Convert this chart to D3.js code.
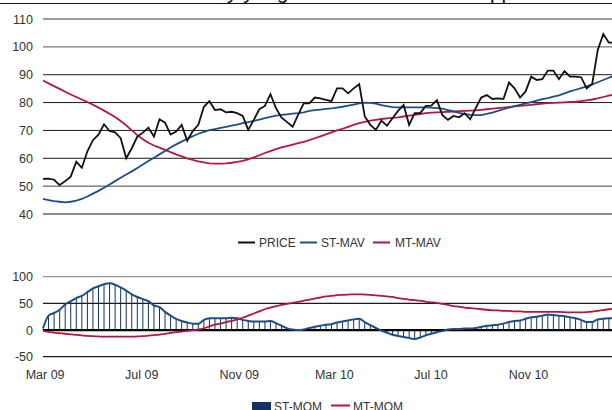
<!DOCTYPE html>
<html>
<head>
<meta charset="utf-8">
<script src="https://cdn.jsdelivr.net/npm/d3@7"></script>
<style>
  html, body { margin: 0; padding: 0; background: #fff; overflow: hidden; }
  svg { display: block; font-family: "Liberation Sans", Arial, sans-serif; }
</style>
</head>
<body>
<svg id="chart" width="612" height="410"></svg>
<script>
// Weekly observations, first week ending 27 Feb 2009
const startDate = "2009-02-27";

const price = [52.6, 52.7, 52.3, 50.4, 51.8, 53.4, 58.8, 56.6, 62.5, 66.5,
  68.5, 72.2, 69.8, 69.3, 67.2, 60.0, 63.6, 67.8, 69.2, 71.0,
  67.8, 74.0, 72.8, 68.5, 69.6, 72.0, 66.3, 69.8, 72.0, 78.5,
  80.5, 77.3, 77.6, 76.5, 76.7, 76.2, 75.2, 70.2, 73.8, 77.6,
  78.8, 83.0, 78.0, 74.6, 73.0, 71.3, 75.7, 79.7, 79.7, 81.8,
  81.5, 81.0, 80.5, 85.1, 85.1, 83.3, 85.1, 86.6, 75.0, 72.0,
  70.2, 73.5, 71.7, 74.4, 77.0, 79.1, 72.0, 76.2, 76.2, 78.8,
  78.9, 80.9, 75.5, 73.8, 75.2, 74.7, 76.2, 74.0, 78.0, 81.8,
  82.7, 81.3, 81.5, 81.3, 87.2, 85.1, 81.8, 84.0, 89.3, 88.1,
  88.4, 91.5, 91.5, 88.4, 91.3, 89.3, 89.3, 89.1, 85.1, 86.7,
  98.9, 104.6, 101.5, 101.5];

const stMav = [45.4, 45.0, 44.6, 44.4, 44.2, 44.4, 44.8, 45.4, 46.3, 47.3,
  48.3, 49.4, 50.6, 51.8, 53.0, 54.2, 55.3, 56.5, 57.8, 59.0,
  60.2, 61.4, 62.6, 63.9, 65.0, 66.0, 67.0, 67.9, 68.8, 69.5,
  70.1, 70.5, 70.9, 71.3, 71.7, 72.1, 72.6, 73.0, 73.4, 73.9,
  74.4, 74.9, 75.3, 75.6, 75.8, 76.0, 76.2, 76.5, 77.0, 77.3,
  77.5, 77.7, 77.9, 78.2, 78.5, 78.9, 79.3, 79.7, 80.0, 79.9,
  79.6, 79.1, 78.7, 78.4, 78.3, 78.3, 78.3, 78.3, 78.3, 78.3,
  78.2, 78.0, 77.8, 77.3, 76.8, 76.3, 75.9, 75.6, 75.5, 75.5,
  75.9, 76.4, 77.0, 77.6, 78.2, 78.7, 79.2, 79.7, 80.2, 80.7,
  81.2, 81.6, 82.1, 82.6, 83.3, 84.0, 84.6, 85.2, 85.8, 86.5,
  87.3, 88.1, 88.9, 89.7];

const mtMav = [87.9, 86.9, 85.9, 84.9, 83.9, 82.9, 82.0, 81.1, 80.2, 79.2,
  78.2, 77.1, 76.0, 74.8, 73.4, 71.8, 70.0, 68.3, 66.8, 65.6,
  64.6, 63.8, 63.0, 62.2, 61.4, 60.7, 60.0, 59.4, 58.9, 58.5,
  58.2, 58.1, 58.1, 58.2, 58.4, 58.7, 59.1, 59.6, 60.3, 61.1,
  61.9, 62.6, 63.3, 63.9, 64.4, 64.9, 65.4, 65.9, 66.5, 67.2,
  67.9, 68.6, 69.3, 70.0, 70.6, 71.3, 72.0, 72.6, 73.1, 73.5,
  73.8, 74.1, 74.3, 74.5, 74.7, 75.0, 75.3, 75.6, 75.9, 76.2,
  76.4, 76.5, 76.6, 76.7, 76.8, 76.9, 77.0, 77.1, 77.2, 77.4,
  77.6, 77.8, 78.0, 78.2, 78.4, 78.6, 78.8, 79.0, 79.2, 79.4,
  79.6, 79.8, 79.9, 80.0, 80.1, 80.2, 80.3, 80.5, 80.8, 81.1,
  81.5, 82.0, 82.5, 83.0];

const stMom = [3, 27, 32, 38, 48, 54, 60, 64, 71, 78,
  82, 86, 87.5, 85, 80, 74, 67, 62, 58, 54,
  46, 43, 34, 27, 21, 17, 14, 12, 12, 19,
  22, 22, 22, 22, 23, 22, 19, 17, 16, 16,
  16, 17, 13, 8, 3, 1, 0, 1, 4, 6,
  8, 10, 11, 14, 16, 18, 20, 21, 15, 9,
  4, -1, -5, -9, -11, -13, -15, -17, -14, -10,
  -7, -4, -2, 1, 2, 2, 3, 3, 4, 6,
  8, 9, 10, 12, 15, 17, 18, 21, 24, 25,
  27, 29, 28, 27, 26, 24, 22, 19, 15, 15,
  20, 21, 22, 22];

const mtMom = [-2, -3.5, -5, -6, -7, -8, -9, -10, -11, -11.5,
  -12, -12.5, -12.5, -12.5, -12.5, -12.5, -12.5, -12, -11.5, -10.5,
  -9.5, -8.5, -7, -5.5, -4, -3, -1.5, 0, 1, 3,
  7, 10, 12, 15, 17, 20, 23, 27, 31, 35,
  39, 42, 45, 47, 49, 51, 53, 55, 57, 59,
  61, 63, 64, 65.5, 66, 66.5, 67, 67, 66.5, 66,
  65, 64, 63, 62, 60, 58.5, 57, 56, 55, 53,
  52, 51, 49, 47, 45, 44, 42, 41, 40, 39,
  38, 37, 37, 36, 36, 35, 35, 34, 34, 34,
  34, 34, 34, 34, 33.5, 33, 33, 33, 33.5, 34.5,
  36, 37.5, 39, 40];

const priceTicks = [40, 50, 60, 70, 80, 90, 100, 110];
const momTicks = [-50, 0, 50, 100];
const monthTicks = ["2009-03-01", "2009-07-01", "2009-11-01", "2010-03-01", "2010-07-01", "2010-11-01"];

const colors = { price: "#111111", st: "#1d4e86", mt: "#b3173b", bar: "#0f3462", text: "#333333" };

const svg = d3.select("#chart");
const W = 612;

const dates = price.map((_, i) => d3.utcDay.offset(new Date(startDate + "T00:00:00Z"), 7 * i));
const x = d3.scaleUtc().domain([dates[0], dates[dates.length - 1]]).range([43, 614.4]);

const yTop = d3.scaleLinear().domain([40, 110]).range([214, 19]);
const yBot = d3.scaleLinear().domain([-50, 100]).range([356.7, 276.7]);

// header: title sits above the top edge, with a rule underneath
svg.append("text")
  .attr("x", 117.5).attr("y", -1.5)
  .attr("font-size", 20.75).attr("fill", "#111")
  .text("Price: steady yet gradual climb above support");
svg.append("line").attr("x1", 0).attr("x2", W).attr("y1", 3.5).attr("y2", 3.5)
  .attr("stroke", "#111").attr("stroke-width", 1);

// ---- upper panel: price and moving averages
const gridTop = svg.append("g");
priceTicks.forEach(t => {
  let stroke = "#1a1a1a", sw = 1;
  if (t >= 100) { stroke = "#7a7a7a"; sw = 1.4; }
  if (t === 50) { stroke = "#444"; }
  if (t === 40) { stroke = "#8a8a8a"; sw = 2; }
  gridTop.append("line")
    .attr("x1", 43).attr("x2", W)
    .attr("y1", yTop(t)).attr("y2", yTop(t))
    .attr("stroke", stroke).attr("stroke-width", sw);
  gridTop.append("text")
    .attr("x", 33).attr("y", yTop(t) + 4.5)
    .attr("text-anchor", "end").attr("font-size", 12.5).attr("fill", colors.text)
    .text(t);
});

const lineTop = vals => d3.line().x((d, i) => x(dates[i])).y(d => yTop(d))(vals);

svg.append("path").attr("d", lineTop(mtMav)).attr("fill", "none")
  .attr("stroke", colors.mt).attr("stroke-width", 1.8);
svg.append("path").attr("d", lineTop(stMav)).attr("fill", "none")
  .attr("stroke", colors.st).attr("stroke-width", 1.8);
svg.append("path").attr("d", lineTop(price)).attr("fill", "none")
  .attr("stroke", colors.price).attr("stroke-width", 1.8).attr("stroke-linejoin", "miter");

// legend for the upper panel
const leg1 = svg.append("g").attr("font-size", 12).attr("fill", colors.text);
[
  { label: "PRICE", color: colors.price, x0: 238, tx: 259 },
  { label: "ST-MAV", color: colors.st, x0: 300, tx: 321 },
  { label: "MT-MAV", color: colors.mt, x0: 373, tx: 395 }
].forEach(d => {
  leg1.append("line").attr("x1", d.x0).attr("x2", d.x0 + 17)
    .attr("y1", 242.5).attr("y2", 242.5).attr("stroke", d.color).attr("stroke-width", 2);
  leg1.append("text").attr("x", d.tx).attr("y", 247).text(d.label);
});

// ---- lower panel: momentum
const gridBot = svg.append("g");
momTicks.forEach(t => {
  let stroke = "#1a1a1a", sw = 1.2;
  if (t === 100) { stroke = "#7a7a7a"; sw = 1; }
  gridBot.append("line")
    .attr("x1", 43).attr("x2", W)
    .attr("y1", yBot(t)).attr("y2", yBot(t))
    .attr("stroke", stroke).attr("stroke-width", sw);
  gridBot.append("text")
    .attr("x", 33).attr("y", yBot(t) + 4.5)
    .attr("text-anchor", "end").attr("font-size", 12.5).attr("fill", colors.text)
    .text(t);
});

// ST-MOM as thin columns from zero
svg.append("g").selectAll("line").data(stMom).join("line")
  .attr("x1", (d, i) => x(dates[i])).attr("x2", (d, i) => x(dates[i]))
  .attr("y1", yBot(0)).attr("y2", d => yBot(d))
  .attr("stroke", colors.bar).attr("stroke-width", 1);

// zero line on top of the columns
svg.append("line").attr("x1", 43).attr("x2", W)
  .attr("y1", yBot(0)).attr("y2", yBot(0))
  .attr("stroke", "#000").attr("stroke-width", 2.2);

const lineBot = vals => d3.line().x((d, i) => x(dates[i])).y(d => yBot(d)).curve(d3.curveMonotoneX)(vals);
svg.append("path").attr("d", lineBot(stMom)).attr("fill", "none")
  .attr("stroke", colors.st).attr("stroke-width", 2);
svg.append("path").attr("d", lineBot(mtMom)).attr("fill", "none")
  .attr("stroke", colors.mt).attr("stroke-width", 1.8);

// x axis labels
const xAxis = d3.axisBottom(x)
  .tickValues(monthTicks.map(s => new Date(s + "T00:00:00Z")))
  .tickFormat(d3.utcFormat("%b %y"))
  .tickSize(0).tickPadding(0);
const gx = svg.append("g").attr("transform", "translate(0,370)").call(xAxis);
gx.select(".domain").remove();
gx.selectAll("text").attr("font-size", 12.5).attr("fill", colors.text)
  .attr("font-family", "Liberation Sans, Arial, sans-serif").attr("dy", "0.71em");

// legend for the lower panel
const leg2 = svg.append("g").attr("font-size", 12).attr("fill", colors.text);
leg2.append("rect").attr("x", 252).attr("y", 402).attr("width", 19).attr("height", 9).attr("fill", colors.bar);
leg2.append("text").attr("x", 274).attr("y", 410.5).text("ST-MOM");
leg2.append("line").attr("x1", 331).attr("x2", 350).attr("y1", 405.5).attr("y2", 405.5)
  .attr("stroke", colors.mt).attr("stroke-width", 2);
leg2.append("text").attr("x", 353).attr("y", 410.5).text("MT-MOM");
</script>
</body>
</html>
